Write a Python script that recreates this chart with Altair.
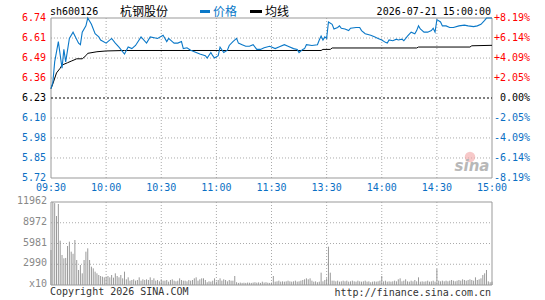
import altair as alt
import pandas as pd

# ---------------- data ----------------
PREV_CLOSE = 6.23
PRICE_TICK_LABELS = ["6.74", "6.61", "6.49", "6.36", "6.23", "6.10", "5.98", "5.85", "5.72"]
PCT_TICKS = [8.19, 6.14, 4.09, 2.05, 0.0, -2.05, -4.09, -6.14, -8.19]
PCT_LABELS = ["+8.19%", "+6.14%", "+4.09%", "+2.05%", "0.00%", "-2.05%", "-4.09%", "-6.14%", "-8.19%"]
TIME_TICKS = [0, 30, 60, 90, 120, 150, 180, 210, 240]
TIME_LABELS = ["09:30", "10:00", "10:30", "11:00", "11:30", "13:30", "14:00", "14:30", "15:00"]
VOL_TICKS = [11962, 8972, 5981, 2990, 0]
VOL_LABELS = ["11962", "8972", "5981", "2990", "x10"]

PRICE_MIN = [0, 1, 2, 4, 6, 7, 8, 10, 12, 15, 16, 17, 19, 20, 22, 24, 26, 27, 30, 33,
             35, 37, 40, 42, 44, 46, 49, 52, 54, 58, 61, 63, 64, 66, 67, 69, 71, 72, 74, 76,
             77, 79, 81, 84, 85, 87, 88, 89, 91, 92, 94, 96, 97, 99, 101, 102, 104, 106, 108, 110,
             112, 114, 116, 119, 120, 122, 124, 127, 129, 132, 134, 135, 137, 138, 139, 142, 145, 146, 147, 148,
             149, 150, 151, 153, 154, 156, 157, 158, 160, 162, 163, 166, 168, 169, 171, 174, 176, 178, 180, 182,
             183, 184, 186, 188, 189, 191, 192, 194, 196, 198, 199, 200, 201, 203, 205, 207, 208, 209, 210, 212,
             213, 215, 217, 219, 222, 225, 227, 230, 232, 234, 236, 237, 240]
PRICE_VAL = [6.29, 6.33, 6.46, 6.59, 6.42, 6.54, 6.46, 6.61, 6.65, 6.58, 6.57, 6.65, 6.69, 6.74, 6.70, 6.64, 6.62, 6.60, 6.58, 6.61,
             6.58, 6.555, 6.51, 6.555, 6.545, 6.565, 6.62, 6.58, 6.62, 6.61, 6.63, 6.59, 6.61, 6.59, 6.58, 6.58, 6.59, 6.545, 6.55, 6.535,
             6.53, 6.52, 6.51, 6.50, 6.485, 6.52, 6.50, 6.485, 6.50, 6.555, 6.52, 6.535, 6.565, 6.59, 6.61, 6.58, 6.57, 6.56, 6.56, 6.57,
             6.54, 6.54, 6.55, 6.56, 6.555, 6.545, 6.555, 6.57, 6.56, 6.545, 6.54, 6.52, 6.54, 6.545, 6.57, 6.565, 6.57, 6.60, 6.625, 6.60,
             6.62, 6.61, 6.715, 6.70, 6.67, 6.68, 6.69, 6.675, 6.67, 6.66, 6.675, 6.68, 6.68, 6.66, 6.64, 6.63, 6.62, 6.61, 6.60, 6.585,
             6.58, 6.60, 6.595, 6.605, 6.60, 6.605, 6.595, 6.625, 6.65, 6.64, 6.66, 6.69, 6.67, 6.65, 6.65, 6.66, 6.675, 6.65, 6.73, 6.715,
             6.69, 6.69, 6.68, 6.68, 6.69, 6.695, 6.69, 6.685, 6.69, 6.70, 6.725, 6.74, 6.74]

AVG_MIN = [0, 1, 3, 5, 6, 9, 11, 14, 17, 19, 20, 25, 30, 40, 147, 148, 152, 153, 199, 200, 228, 229, 240]
AVG_VAL = [6.29, 6.32, 6.39, 6.42, 6.44, 6.455, 6.465, 6.48, 6.48, 6.50, 6.515, 6.525, 6.53, 6.533, 6.533,
           6.54, 6.54, 6.549, 6.549, 6.555, 6.555, 6.563, 6.566]

VOLUME = [
    5044, 11962, 11800, 9944, 11673, 6390, 4324, 3843, 3900, 5621,
    6246, 4804, 4500, 6485, 3603, 2162, 2882, 1681, 3603, 4804,
    5284, 3603, 2642, 2402, 1922, 1681, 1441, 1297, 1201, 1105,
    1201, 1297, 1105, 1441, 1057, 1681, 1297, 1105, 1441, 961,
    1922, 817, 1105, 624, 721, 817, 624, 721, 1105, 624,
    817, 721, 817, 721, 1105, 721, 961, 624, 721, 528,
    817, 624, 624, 721, 480, 721, 817, 624, 528, 624,
    961, 721, 624, 624, 528, 721, 624, 721, 961, 1105,
    624, 817, 961, 961, 721, 400, 528, 480, 624, 961,
    480, 721, 961, 624, 817, 721, 528, 721, 624, 624,
    1297, 400, 300, 350, 300, 330, 300, 350, 330, 300,
    350, 400, 330, 380, 300, 480, 350, 400, 330, 300,
    350, 1297, 480, 528, 624, 480, 528, 480, 528, 624,
    528, 480, 528, 624, 480, 528, 624, 721, 817, 961,
    817, 961, 624, 480, 528, 400, 480, 1777, 528, 721,
    961, 5525, 1777, 624, 624, 528, 624, 480, 528, 624,
    528, 624, 480, 528, 624, 528, 480, 624, 528, 480,
    528, 624, 480, 528, 400, 480, 528, 480, 528, 624,
    1297, 528, 624, 480, 528, 480, 528, 624, 528, 817,
    961, 528, 624, 817, 528, 480, 624, 528, 721, 528,
    1105, 480, 528, 480, 528, 624, 480, 528, 624, 480,
    2306, 624, 528, 624, 528, 624, 528, 624, 721, 624,
    528, 624, 721, 624, 817, 721, 624, 721, 817, 721,
    624, 1105, 721, 817, 961, 1441, 1681, 2162, 528, 400,
    480,
]

# ---------------- layout ----------------
W = 441
H = 267
P_TOP, P_BOT = 0, 160
V_TOP, V_BOT = 184, 267
MONO = "DejaVu Sans Mono"
CJK = "Noto Sans CJK SC"
RED = "#ff0000"
BLUE = "#0a6fc4"
LINE_BLUE = "#0a78c8"
GRID = "#aaaaaa"
FRAME = "#999999"

PMAX = PREV_CLOSE * (1 + PCT_TICKS[0] / 100)
PMIN = PREV_CLOSE * (1 + PCT_TICKS[-1] / 100)

x_scale = alt.Scale(domain=[0, 240], nice=False, zero=False)
p_scale = alt.Scale(domain=[PMIN, PMAX], range=[P_BOT, P_TOP], nice=False, zero=False)
v_scale = alt.Scale(domain=[0, VOL_TICKS[0]], range=[V_BOT, V_TOP], nice=False)

price_df = pd.DataFrame({"m": PRICE_MIN, "p": PRICE_VAL})
avg_df = pd.DataFrame({"m": AVG_MIN, "p": AVG_VAL})
vol_df = pd.DataFrame({"m": list(range(len(VOLUME))), "v": VOLUME})
ptick_df = pd.DataFrame({"pct": PCT_TICKS, "plab": PRICE_TICK_LABELS, "pctlab": PCT_LABELS})
time_df = pd.DataFrame({"t": TIME_TICKS, "lab": TIME_LABELS})
vtick_df = pd.DataFrame({"v": VOL_TICKS, "lab": VOL_LABELS})
one = pd.DataFrame({"a": [0]})

pt = alt.Chart(ptick_df).transform_calculate(
    p=f"{PREV_CLOSE} * (1 + datum.pct / 100)",
    col=f"datum.pct > 0 ? '{RED}' : (datum.pct < 0 ? '{BLUE}' : '#000000')",
)

# grid lines
p_grid = pt.transform_filter("datum.pct != 0 && abs(datum.pct) < 8").mark_rule(
    color=GRID, strokeDash=[1, 2], strokeWidth=1
).encode(y=alt.Y("p:Q", scale=p_scale, axis=None), x=alt.value(0), x2=alt.value(W))

zero_line = pt.transform_filter("datum.pct == 0").mark_rule(
    color="#000000", strokeDash=[2, 2], strokeWidth=1
).encode(y=alt.Y("p:Q", scale=p_scale, axis=None), x=alt.value(0), x2=alt.value(W))

t_inner = alt.Chart(time_df).transform_filter("datum.t > 0 && datum.t < 240")
v_grid_p = t_inner.mark_rule(color=GRID, strokeDash=[1, 2]).encode(
    x=alt.X("t:Q", scale=x_scale, axis=None), y=alt.value(P_TOP), y2=alt.value(P_BOT))
v_grid_v = t_inner.mark_rule(color=GRID, strokeDash=[1, 2]).encode(
    x=alt.X("t:Q", scale=x_scale, axis=None), y=alt.value(V_TOP), y2=alt.value(V_BOT))

vol_grid = alt.Chart(vtick_df).transform_filter(
    f"datum.v > 0 && datum.v < {VOL_TICKS[0]}").mark_rule(
    color=GRID, strokeDash=[1, 2]).encode(
    y=alt.Y("v:Q", scale=v_scale, axis=None), x=alt.value(0), x2=alt.value(W))

# frames
frame_p = alt.Chart(one).mark_rect(fill="transparent", stroke=FRAME, strokeWidth=1).encode(
    x=alt.value(0), x2=alt.value(W), y=alt.value(P_TOP), y2=alt.value(P_BOT))
frame_v = alt.Chart(one).mark_rect(fill="transparent", stroke=FRAME, strokeWidth=1).encode(
    x=alt.value(0), x2=alt.value(W), y=alt.value(V_TOP), y2=alt.value(V_BOT))

# series
vol_bars = alt.Chart(vol_df).mark_rule(color="#999999", strokeWidth=1).encode(
    x=alt.X("m:Q", scale=x_scale, axis=None),
    y=alt.Y("v:Q", scale=v_scale, axis=None),
    y2=alt.value(V_BOT))

avg_line = alt.Chart(avg_df).mark_line(color="#000000", strokeWidth=1, interpolate="linear").encode(
    x=alt.X("m:Q", scale=x_scale, axis=None), y=alt.Y("p:Q", scale=p_scale, axis=None))

price_line = alt.Chart(price_df).mark_line(color=LINE_BLUE, strokeWidth=1.1).encode(
    x=alt.X("m:Q", scale=x_scale, axis=None), y=alt.Y("p:Q", scale=p_scale, axis=None))

# tick labels
left_lab = pt.mark_text(font=MONO, fontSize=10, align="right", baseline="middle").encode(
    y=alt.Y("p:Q", scale=p_scale, axis=None), x=alt.value(-5), text="plab:N",
    color=alt.Color("col:N", scale=None))
right_lab = pt.mark_text(font=MONO, fontSize=10, align="right", baseline="middle").encode(
    y=alt.Y("p:Q", scale=p_scale, axis=None), x=alt.value(479), text="pctlab:N",
    color=alt.Color("col:N", scale=None))
time_lab = alt.Chart(time_df).mark_text(font=MONO, fontSize=10, align="center", baseline="middle",
                                        color=BLUE).encode(
    x=alt.X("t:Q", scale=x_scale, axis=None), y=alt.value(170), text="lab:N")
vol_lab = alt.Chart(vtick_df).mark_text(font=MONO, fontSize=10, align="right", baseline="middle",
                                        color="#888888", dy=-1).encode(
    y=alt.Y("v:Q", scale=v_scale, axis=None), x=alt.value(-4), text="lab:N")

# header / footer texts
def txt(s, x, y, **kw):
    return alt.Chart(one).mark_text(**kw).encode(x=alt.value(x), y=alt.value(y), text=alt.value(s))

code_t = txt("sh600126", -1, -6.5, font=MONO, fontSize=10, align="left", baseline="middle", color="#000000")
name_t = txt("杭钢股份", 69, -6.5, font=CJK, fontSize=12, align="left", baseline="middle", color="#000000")
leg_b = alt.Chart(one).mark_rule(color=LINE_BLUE, strokeWidth=3).encode(
    x=alt.value(149), x2=alt.value(159), y=alt.value(-6.5))
leg_bt = txt("价格", 162, -6.5, font=CJK, fontSize=12, align="left", baseline="middle", color=LINE_BLUE)
leg_k = alt.Chart(one).mark_rule(color="#000000", strokeWidth=3).encode(
    x=alt.value(199), x2=alt.value(211), y=alt.value(-6.5))
leg_kt = txt("均线", 214, -6.5, font=CJK, fontSize=12, align="left", baseline="middle", color="#000000")
date_t = txt("2026-07-21 15:00:00", 440, -6, font=MONO, fontSize=10, align="right", baseline="middle",
             color="#000000")
copy_t = txt("Copyright 2026 SINA.COM", -1, 274, font=MONO, fontSize=10, align="left", baseline="middle",
             color="#333333")
url_t = txt("http://finance.sina.com.cn", 440, 274.5, font=MONO, fontSize=10, align="right",
            baseline="middle", color="#333333")

# sina watermark
logo_eye = alt.Chart(one).mark_point(filled=True, color="#f2a5a5", opacity=0.6, size=110).encode(
    x=alt.value(419), y=alt.value(139))
logo_t = txt("sina", 421, 148, font="DejaVu Sans", fontSize=15, fontStyle="italic", fontWeight="bold",
             align="center", baseline="middle", color="#b8b8b8")

chart = alt.layer(
    p_grid, v_grid_p, v_grid_v, vol_grid, logo_eye, logo_t, frame_p, frame_v, zero_line,
    vol_bars, avg_line, price_line,
    left_lab, right_lab, time_lab, vol_lab,
    code_t, name_t, leg_b, leg_bt, leg_k, leg_kt, date_t, copy_t, url_t,
).resolve_scale(y="independent").properties(
    width=W, height=H,
    padding={"left": 51, "top": 18, "right": 53, "bottom": 15},
    autosize=alt.AutoSizeParams(type="none"),
    background="#ffffff",
).configure_view(stroke=None)

chart.save("out.html", embed_options={"renderer": "svg", "actions": False})
